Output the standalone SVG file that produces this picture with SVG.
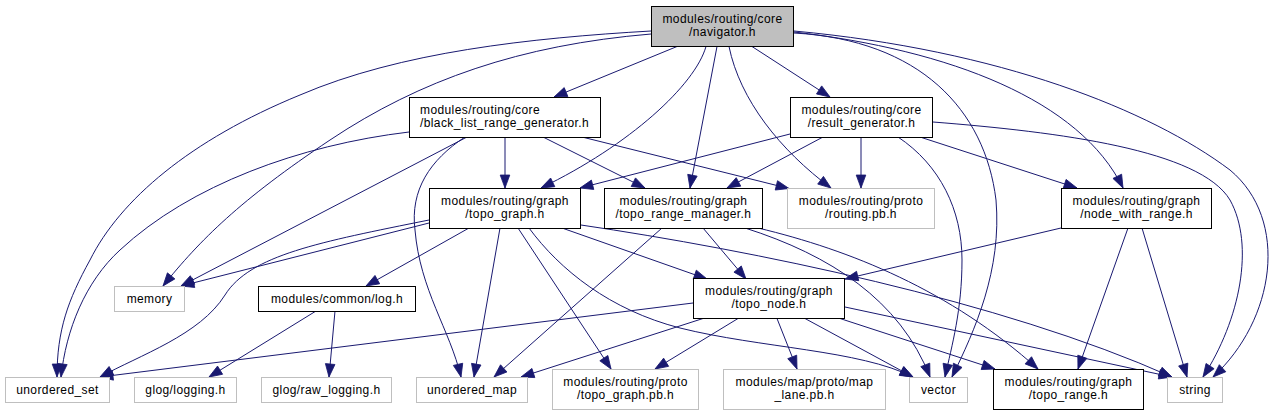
<svg xmlns="http://www.w3.org/2000/svg" width="1277" height="416" viewBox="0 0 1277 416">
<style>
text{font-family:"Liberation Sans",Arial,Helvetica,sans-serif;font-size:12px;letter-spacing:0.4px;fill:#000;text-anchor:middle}
text.l{text-anchor:start}
.n rect{fill:#fff;stroke:#000;stroke-width:1}
.g rect{fill:#fff;stroke:#bfbfbf;stroke-width:1}
.root rect{fill:#bfbfbf;stroke:#000;stroke-width:1}
#edges path{fill:none;stroke:#191970;stroke-width:1;marker-end:url(#arr)}
</style>
<defs>
<marker id="arr" markerWidth="14" markerHeight="10" refX="13" refY="4.8" orient="auto" markerUnits="userSpaceOnUse" overflow="visible">
<path d="M0,0 L13,4.8 L0,9.6 z" fill="#191970" stroke="#191970" stroke-width="0.8"/>
</marker>
</defs>
<rect width="1277" height="416" fill="#fff"/>
<g id="edges">
<path d="M677,46.5 L554,97"/>
<path d="M706,46.5 C695,85 630,145 541,188"/>
<path d="M717,46.5 L690,188"/>
<path d="M729,46.5 C740,100 780,150 831,188"/>
<path d="M752,46.5 L830,97"/>
<path d="M651,31 C530,38 400,52 300,95 C190,140 120,200 90,260 C68,300 57,330 57,377"/>
<path d="M651,34 C520,45 420,80 330,140 C240,200 200,240 163,286"/>
<path d="M794,33 C920,40 985,110 996,200 C1002,270 975,330 952,377"/>
<path d="M794,32 C950,50 1080,100 1123,188"/>
<path d="M794,31 C1000,50 1150,110 1230,170 C1290,220 1275,320 1213,377"/>
<path d="M409,132 C300,145 190,185 120,250 C85,282 66,330 61,377"/>
<path d="M467,137 L181,286"/>
<path d="M465,137 C430,160 410,190 415,230 C420,290 450,330 461,377"/>
<path d="M505,137 L505,188"/>
<path d="M543,137 L645,188"/>
<path d="M582,137 L789,188.5"/>
<path d="M790,134 L580,188"/>
<path d="M823,137 L727,188"/>
<path d="M861,137 L861,188"/>
<path d="M898,137 C940,165 962,210 962,260 C962,310 952,345 945,377"/>
<path d="M920,137 L1077,188"/>
<path d="M933,122 C1060,132 1200,150 1230,200 C1255,245 1240,320 1203,377"/>
<path d="M429,223 L181,286"/>
<path d="M429,220 C320,242 250,255 225,295 C200,335 140,355 100,377"/>
<path d="M469,228 L366,286"/>
<path d="M500,228 L474,377"/>
<path d="M518,228 L611,369"/>
<path d="M529,228 C560,270 610,310 680,328 C760,348 860,350 913,377"/>
<path d="M562,228 L707,279"/>
<path d="M581,225 C750,250 1000,300 1172,377"/>
<path d="M662,228 L494,377"/>
<path d="M703,228 L746,279"/>
<path d="M745,228 C830,255 900,300 930,377"/>
<path d="M758,228 C850,250 950,290 1038,369"/>
<path d="M1061,228 L845,279"/>
<path d="M1128,228 L1078,369"/>
<path d="M1142,228 L1187,377"/>
<path d="M316,311 L209,377"/>
<path d="M335,311 L329,377"/>
<path d="M693,303 L100,377"/>
<path d="M703,318.5 L521,377"/>
<path d="M738,318.5 L655,369"/>
<path d="M777,318.5 L797,369"/>
<path d="M805,318.5 L913,377"/>
<path d="M840,318.5 L995,369"/>
<path d="M845,307 L1172,377"/>
</g>
<g id="navigator" class="root"><rect x="651.5" y="6.5" width="142" height="40"/><text x="722.5" y="22.5">modules/routing/core</text><text x="722.5" y="36">/navigator.h</text></g>
<g id="black_list_range_generator" class="n"><rect x="409.5" y="97.5" width="191" height="40"/><text class="l" x="420" y="113.5">modules/routing/core</text><text class="l" x="420" y="127">/black_list_range_generator.h</text></g>
<g id="result_generator" class="n"><rect x="790.5" y="97.5" width="142" height="40"/><text x="861.5" y="113.5">modules/routing/core</text><text x="861.5" y="127">/result_generator.h</text></g>
<g id="topo_graph" class="n"><rect x="429.5" y="188.5" width="151" height="40"/><text x="505" y="204.5">modules/routing/graph</text><text x="505" y="218">/topo_graph.h</text></g>
<g id="topo_range_manager" class="n"><rect x="604.5" y="188.5" width="158" height="40"/><text x="683.5" y="204.5">modules/routing/graph</text><text x="683.5" y="218">/topo_range_manager.h</text></g>
<g id="routing_pb" class="g"><rect x="787.5" y="188.5" width="147" height="40"/><text x="861" y="204.5">modules/routing/proto</text><text x="861" y="218">/routing.pb.h</text></g>
<g id="node_with_range" class="n"><rect x="1061.5" y="188.5" width="150" height="40"/><text x="1136.5" y="204.5">modules/routing/graph</text><text x="1136.5" y="218">/node_with_range.h</text></g>
<g id="memory" class="g"><rect x="114.5" y="286.5" width="70" height="25"/><text x="149.5" y="302.5">memory</text></g>
<g id="log" class="n"><rect x="258.5" y="286.5" width="157" height="25"/><text x="337" y="302.5">modules/common/log.h</text></g>
<g id="topo_node" class="n"><rect x="693.5" y="278.5" width="151" height="40"/><text x="769" y="294.5">modules/routing/graph</text><text x="769" y="308">/topo_node.h</text></g>
<g id="unordered_set" class="g"><rect x="5.5" y="377.5" width="104" height="25"/><text x="57.5" y="393.5">unordered_set</text></g>
<g id="glog_logging" class="g"><rect x="134.5" y="377.5" width="102" height="25"/><text x="185.5" y="393.5">glog/logging.h</text></g>
<g id="glog_raw_logging" class="g"><rect x="261.5" y="377.5" width="130" height="25"/><text x="326.5" y="393.5">glog/raw_logging.h</text></g>
<g id="unordered_map" class="g"><rect x="416.5" y="377.5" width="111" height="25"/><text x="472" y="393.5">unordered_map</text></g>
<g id="topo_graph_pb" class="g"><rect x="552.5" y="369.5" width="146" height="40"/><text x="625.5" y="385.5">modules/routing/proto</text><text x="625.5" y="399">/topo_graph.pb.h</text></g>
<g id="map_lane_pb" class="g"><rect x="723.5" y="369.5" width="162" height="40"/><text x="804.5" y="385.5">modules/map/proto/map</text><text x="804.5" y="399">_lane.pb.h</text></g>
<g id="vector" class="g"><rect x="909.5" y="377.5" width="58" height="25"/><text x="938.5" y="393.5">vector</text></g>
<g id="topo_range" class="n"><rect x="993.5" y="369.5" width="150" height="40"/><text x="1068.5" y="385.5">modules/routing/graph</text><text x="1068.5" y="399">/topo_range.h</text></g>
<g id="string" class="g"><rect x="1167.5" y="377.5" width="55" height="25"/><text x="1195" y="393.5">string</text></g>
</svg>
